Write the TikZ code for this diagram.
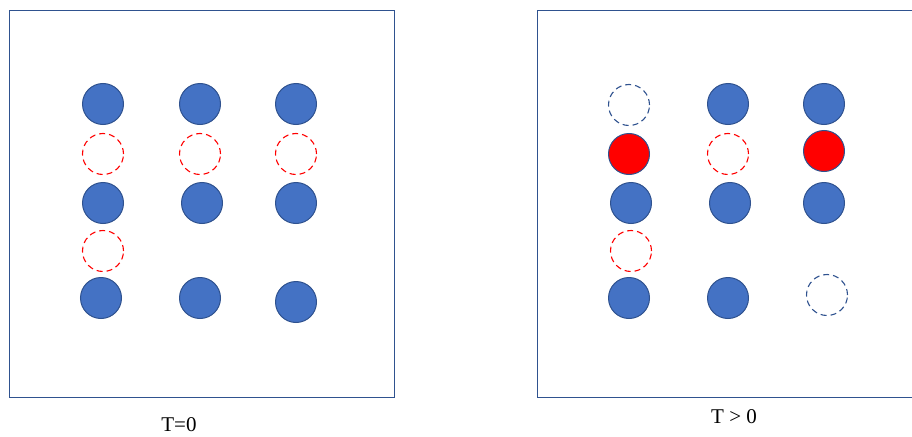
\documentclass[tikz,border=0pt]{standalone}
\usepackage{fontspec}
\setmainfont{Liberation Serif}
\definecolor{ptblue}{RGB}{68,114,196}
\definecolor{ptedge}{RGB}{47,82,143}
\definecolor{ptred}{RGB}{255,0,0}
\usetikzlibrary{positioning}
\tikzset{
  full/.style={draw=ptedge, circle, fill=#1, line width=1pt,
               minimum size=41pt, inner sep=0pt},
  hole/.style={draw=#1, circle, line width=1.1pt,
               dash pattern=on 6pt off 4pt, minimum size=41pt, inner sep=0pt},
  frame/.style={draw=ptedge, line width=0.8pt},
  tlabel/.style={font=\fontsize{21}{25}\selectfont, inner sep=0pt},
}
\begin{document}
\begin{tikzpicture}[x=1pt, y=-1pt]
\useasboundingbox (0,0) rectangle (912,436);

% Panel T=0
\draw[frame] (9,10) rectangle (394,397);
\node[full=ptblue] (l11) at (103,104) {};
\node[full=ptblue] (l12) at (200,104) {};
\node[full=ptblue] (l13) at (296,104) {};
\node[hole=ptred]  (l21) at (103,154) {};
\node[hole=ptred]  (l22) at (200,154) {};
\node[hole=ptred]  (l23) at (296,154) {};
\node[full=ptblue] (l31) at (103,203) {};
\node[full=ptblue] (l32) at (202,203) {};
\node[full=ptblue] (l33) at (296,203) {};
\node[hole=ptred]  (l41) at (103,251) {};
\node[full=ptblue] (l51) at (101,298) {};
\node[full=ptblue] (l52) at (200,298) {};
\node[full=ptblue] (l53) at (296,302) {};
\node[tlabel] (t0) at (179,425) {T=0};

% Panel T>0
\draw[frame] (912,10) -- (537,10) -- (537,397) -- (912,397);
\node[hole=ptedge] (r11) at (629,105) {};
\node[full=ptblue] (r12) at (728,104) {};
\node[full=ptblue] (r13) at (824,104) {};
\node[full=ptred]  (r21) at (629,154) {};
\node[hole=ptred]  (r22) at (728,154) {};
\node[full=ptred]  (r23) at (824,151) {};
\node[full=ptblue] (r31) at (631,203) {};
\node[full=ptblue] (r32) at (730,203) {};
\node[full=ptblue] (r33) at (824,203) {};
\node[hole=ptred]  (r41) at (631,251) {};
\node[full=ptblue] (r51) at (629,298) {};
\node[full=ptblue] (r52) at (728,298) {};
\node[hole=ptedge] (r53) at (827,295) {};
\node[tlabel] (t1) at (734,417) {T > 0};

\end{tikzpicture}
\end{document}
